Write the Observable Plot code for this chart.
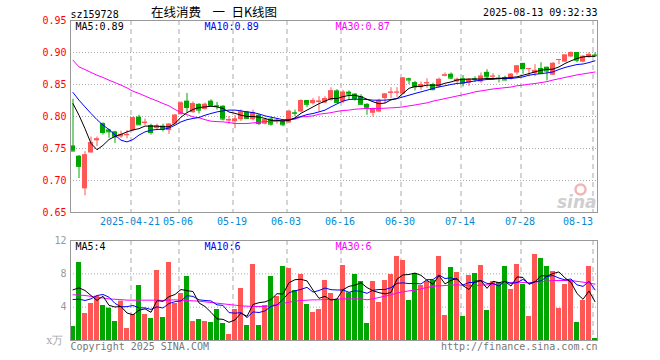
<!DOCTYPE html>
<html><head><meta charset="utf-8">
<script src="https://cdn.jsdelivr.net/npm/d3@7"></script>
<script src="https://cdn.jsdelivr.net/npm/@observablehq/plot@0.6"></script>
<style>
body{margin:0;background:#fff;}
#chart{position:relative;width:660px;height:360px;overflow:hidden;background:#fff;}
#chart svg{position:absolute;left:0;}
</style></head><body><div id="chart"></div>
<script>
// ---- data ----
const tickIdx = [10, 18, 27, 36, 45, 55, 65, 75, 87];
const tickLabels = ["2025-04-21","05-06","05-19","06-03","06-16","06-30","07-14","07-28","08-13"];
const priceTicks = [0.65, 0.70, 0.75, 0.80, 0.85, 0.90, 0.95];
const volTicks = [4, 8, 12];

const open = [0.754,0.738,0.687,0.743,0.762,0.789,0.779,0.776,0.768,0.770,
0.778,0.799,0.789,0.786,0.781,0.785,0.778,0.788,0.803,0.824,
0.806,0.819,0.811,0.824,0.817,0.816,0.793,0.792,0.795,0.807,
0.795,0.802,0.788,0.796,0.792,0.793,0.790,0.806,0.807,0.825,
0.820,0.822,0.821,0.825,0.840,0.823,0.838,0.835,0.831,0.819,
0.805,0.807,0.828,0.836,0.837,0.835,0.859,0.853,0.845,0.851,
0.850,0.846,0.863,0.866,0.854,0.859,0.852,0.859,0.854,0.869,
0.862,0.860,0.861,0.858,0.868,0.883,0.874,0.867,0.875,0.877,
0.8645,0.888,0.885,0.893,0.900,0.885,0.892,0.896];
const high = [0.827,0.739,0.745,0.768,0.768,0.790,0.780,0.777,0.777,0.778,
0.799,0.802,0.796,0.788,0.788,0.788,0.789,0.803,0.823,0.836,
0.823,0.820,0.821,0.826,0.822,0.817,0.800,0.802,0.810,0.808,
0.810,0.803,0.797,0.798,0.797,0.795,0.810,0.810,0.826,0.825,
0.828,0.831,0.831,0.845,0.842,0.841,0.840,0.836,0.834,0.820,
0.813,0.827,0.836,0.845,0.845,0.861,0.860,0.855,0.854,0.859,
0.852,0.860,0.868,0.868,0.860,0.864,0.859,0.862,0.868,0.873,
0.867,0.8645,0.863,0.867,0.879,0.883,0.875,0.881,0.884,0.877,
0.884,0.889,0.896,0.901,0.900,0.895,0.8995,0.899];
const low = [0.745,0.703,0.676,0.743,0.753,0.771,0.766,0.758,0.766,0.765,
0.776,0.786,0.786,0.771,0.778,0.776,0.772,0.787,0.802,0.805,
0.805,0.804,0.810,0.816,0.810,0.793,0.788,0.781,0.792,0.796,
0.793,0.786,0.787,0.785,0.788,0.784,0.789,0.800,0.806,0.814,
0.818,0.807,0.820,0.824,0.820,0.820,0.827,0.824,0.818,0.802,
0.799,0.806,0.820,0.828,0.830,0.834,0.850,0.840,0.841,0.844,
0.840,0.844,0.862,0.858,0.852,0.846,0.847,0.853,0.852,0.857,
0.857,0.8525,0.856,0.857,0.8645,0.866,0.862,0.862,0.866,0.8556,
0.864,0.881,0.885,0.892,0.884,0.884,0.891,0.893];
const close = [0.746,0.722,0.740,0.759,0.765,0.775,0.776,0.768,0.772,0.772,
0.798,0.787,0.791,0.775,0.785,0.780,0.788,0.802,0.821,0.814,
0.820,0.810,0.819,0.817,0.816,0.796,0.795,0.796,0.807,0.797,
0.806,0.789,0.795,0.788,0.794,0.787,0.808,0.805,0.825,0.819,
0.825,0.824,0.828,0.840,0.822,0.838,0.835,0.828,0.819,0.813,
0.812,0.825,0.835,0.838,0.838,0.860,0.857,0.846,0.850,0.853,
0.842,0.858,0.865,0.860,0.858,0.852,0.858,0.858,0.863,0.862,
0.863,0.859,0.857,0.866,0.879,0.875,0.875,0.872,0.867,0.871,
0.883,0.889,0.896,0.900,0.888,0.894,0.897,0.895];

const ma5 = [0.820,0.802,0.781,0.758,0.748,0.755,0.764,0.769,0.772,0.776,
0.779,0.781,0.785,0.785,0.785,0.784,0.784,0.789,0.799,0.806,
0.811,0.814,0.815,0.816,0.815,0.8125,0.807,0.805,0.802,0.800,
0.800,0.799,0.797,0.794,0.794,0.793,0.794,0.798,0.805,0.810,
0.815,0.820,0.824,0.828,0.828,0.831,0.833,0.833,0.831,0.827,
0.823,0.820,0.821,0.826,0.828,0.836,0.844,0.847,0.847,0.849,
0.849,0.849,0.852,0.854,0.857,0.858,0.8585,0.8585,0.8585,0.8594,
0.8594,0.8594,0.860,0.861,0.862,0.8645,0.867,0.8697,0.8723,0.8735,
0.874,0.8775,0.8828,0.887,0.8906,0.8931,0.894,0.894];
const ma10 = [0.8375,0.8255,0.815,0.8047,0.795,0.7864,0.7797,0.771,0.763,0.7603,
0.764,0.771,0.776,0.7786,0.7797,0.780,0.782,0.7864,0.7916,0.795,
0.7969,0.7984,0.802,0.8047,0.8072,0.8088,0.810,0.810,0.8088,0.8072,
0.8062,0.8040,0.801,0.799,0.797,0.795,0.795,0.797,0.800,0.803,
0.8047,0.8072,0.810,0.815,0.8197,0.824,0.8266,0.827,0.827,0.8266,
0.8255,0.8255,0.8255,0.8266,0.828,0.8306,0.8333,0.836,0.8385,0.841,
0.8437,0.8463,0.848,0.850,0.8516,0.8525,0.854,0.8556,0.8567,0.8578,
0.858,0.8594,0.8594,0.8594,0.8605,0.8619,0.8645,0.866,0.867,0.8681,
0.8697,0.8735,0.8766,0.879,0.8812,0.882,0.8843,0.887];
const ma30 = [0.888,0.8775,0.8734,0.8688,0.8645,0.861,0.8567,0.853,0.849,0.8447,
0.8395,0.836,0.832,0.828,0.8244,0.8203,0.8166,0.811,0.806,0.803,
0.7994,0.798,0.795,0.7927,0.792,0.7916,0.7906,0.789,0.789,0.789,
0.790,0.791,0.792,0.7925,0.7927,0.7937,0.7948,0.7958,0.7994,0.800,
0.801,0.8036,0.8047,0.806,0.808,0.8093,0.810,0.8114,0.812,0.8125,
0.8125,0.8125,0.813,0.8135,0.814,0.815,0.8166,0.818,0.8197,0.8213,
0.824,0.826,0.828,0.830,0.832,0.834,0.836,0.8385,0.840,0.8415,
0.843,0.844,0.845,0.846,0.848,0.849,0.8505,0.8515,0.853,0.8545,
0.857,0.859,0.861,0.863,0.865,0.8665,0.868,0.8695];

const vol = [1.68,9.36,3.24,4.44,5.32,4.2,3.88,2.28,4.72,1.44,
3.12,6.6,3.12,2.64,8.4,2.76,9.36,4.44,5.64,7.68,
2.28,2.52,2.28,2.16,3.72,2.04,0.72,3.72,6.24,1.8,
9.12,1.8,4.2,7.68,5.28,8.88,8.64,6.0,7.92,4.32,
3.36,3.72,7.2,5.64,4.92,9.0,5.72,7.92,7.08,2.04,
7.08,4.56,7.2,7.92,10.08,9.6,4.8,8.04,6.6,7.08,
7.2,10.08,3.0,8.76,8.16,2.88,7.8,8.04,9.0,3.6,
7.08,6.96,8.88,6.12,9.12,6.72,2.88,10.32,9.84,8.88,
8.28,3.84,6.72,7.2,2.16,4.8,8.88,0.24];
const vma5 = [6.08,6.32,6.0,5.4,4.81,5.31,4.22,4.02,4.08,3.30,
3.09,3.63,3.80,3.38,4.78,4.70,5.26,5.52,6.12,5.98,
5.88,4.51,4.08,3.38,2.59,2.54,2.18,2.47,3.29,2.90,
4.32,4.54,4.63,4.92,5.62,5.57,6.94,7.30,7.34,7.15,
6.05,5.06,5.30,4.85,4.97,6.10,6.50,6.64,6.93,6.35,
5.97,5.74,5.59,5.76,7.37,7.87,7.92,8.09,7.82,7.22,
6.74,7.80,6.79,7.22,7.44,6.58,6.12,7.13,7.18,6.26,
7.10,6.94,7.10,6.53,7.63,7.56,6.74,7.03,7.78,7.73,
8.04,8.23,7.51,6.98,5.64,4.94,5.95,4.66];
const vma10 = [4.92,4.96,4.8,5.0,5.4,5.52,5.2,4.45,4.05,4.06,
4.20,3.92,3.91,3.73,4.04,3.90,4.44,4.66,4.75,5.38,
5.29,4.88,4.80,4.75,4.28,4.21,3.35,3.28,3.34,2.75,
3.43,3.36,3.55,4.10,4.26,4.94,5.74,5.96,6.13,6.38,
5.81,6.00,6.30,6.10,6.06,6.07,5.78,5.97,5.89,5.66,
6.03,6.12,6.12,6.34,6.86,6.92,6.83,6.84,6.79,7.30,
7.31,7.86,7.44,7.52,7.33,6.66,6.96,6.96,7.20,6.85,
6.84,6.53,7.12,6.85,6.95,7.33,6.84,7.07,7.15,7.68,
7.80,7.49,7.27,7.38,6.68,6.49,7.09,6.08];
const vma30 = [5.48,5.46,5.4,5.3,5.2,5.1,5.0,4.95,4.9,4.85,
4.84,4.84,4.84,4.84,4.84,4.8,4.84,4.88,4.84,4.8,
4.76,4.72,4.64,4.56,4.48,4.4,4.32,4.24,4.16,4.12,
4.08,4.08,4.08,4.2,4.32,4.44,4.6,4.72,4.8,4.84,
4.88,4.88,4.92,4.92,4.96,5.0,5.0,5.0,5.0,4.88,
5.0,5.16,5.32,5.48,5.7,5.84,5.96,6.04,6.2,6.36,
6.5,6.56,6.6,6.64,6.68,6.64,6.58,6.6,6.64,6.68,
6.72,6.8,6.88,6.94,7.0,6.96,6.92,7.0,7.06,7.12,
7.2,7.2,7.2,7.2,7.1,7.0,6.9,6.76];

// ---- build tables ----
const RED = "#ff5656", GREEN = "#00a600";
const bars = close.map((c, i) => ({i, o: open[i], h: high[i], l: low[i], c, v: vol[i], up: c >= open[i]}));
const ticks = tickIdx.map((i, k) => ({i, label: tickLabels[k]}));
const series = (arr) => arr.map((v, i) => ({i, v}));
const col = d => d.up ? RED : GREEN;
const xDomain = [-5 / 12, 87 + 5 / 12];
const half = 0.42;
const MONO = "DejaVu Sans Mono";
const CJK = "Noto Sans CJK SC";
const GRID = "#aaaaaa";

const label = (s, o) => Plot.text([s], {text: d => d, textAnchor: "start", lineAnchor: "middle", ...o});

const price = Plot.plot({
  width: 660, height: 230,
  marginLeft: 70, marginRight: 63, marginTop: 20, marginBottom: 18,
  style: {fontFamily: MONO, fontSize: "10px", background: "transparent", overflow: "visible"},
  x: {domain: xDomain, axis: null},
  y: {domain: [0.65, 0.95], axis: null},
  marks: [
    Plot.ruleY(priceTicks.slice(1, -1), {stroke: GRID, strokeDasharray: "1,2"}),
    Plot.ruleX(ticks, {x: "i", dx: -2, stroke: GRID, strokeDasharray: "5,4"}),
    // sina watermark (logo ring + word)
    Plot.dot([0], {frameAnchor: "bottom-right", dx: -17, dy: -23, r: 5, stroke: "#f6b4b4", strokeWidth: 2.5, fill: "none"}),
    Plot.text(["sina"], {text: d => d, frameAnchor: "bottom-right", dx: -1, dy: -5, textAnchor: "end", lineAnchor: "bottom",
      fontFamily: "DejaVu Sans", fontSize: 17, fontWeight: "bold", fontStyle: "italic", fill: "#cfcfcf"}),
    Plot.ruleX(bars, {x: "i", y1: "l", y2: "h", stroke: col, strokeWidth: 1}),
    Plot.rect(bars, {x1: d => d.i - half, x2: d => d.i + half, y1: "o", y2: "c", fill: col}),
    Plot.ruleY(bars, {y: "c", x1: d => d.i - half, x2: d => d.i + half, stroke: col}),
    Plot.line(series(ma30), {x: "i", y: "v", stroke: "#ff00ff", strokeWidth: 1}),
    Plot.line(series(ma10), {x: "i", y: "v", stroke: "#0000ff", strokeWidth: 1}),
    Plot.line(series(ma5), {x: "i", y: "v", stroke: "#000000", strokeWidth: 1}),
    Plot.frame({stroke: "#999"}),
    Plot.text(priceTicks, {y: d => d, text: d => d.toFixed(2), frameAnchor: "left", dx: -4, textAnchor: "end",
      lineAnchor: "middle", fill: "#ff0000"}),
    Plot.text(ticks.slice(0, -1), {x: "i", text: "label", frameAnchor: "bottom", dx: -3, dy: 9, lineAnchor: "middle", fill: "#0a88d2"}),
    Plot.text(ticks.slice(-1), {x: "i", text: "label", frameAnchor: "bottom", dx: -2, dy: 9, textAnchor: "end", lineAnchor: "middle", fill: "#0a88d2"}),
    label("sz159728", {frameAnchor: "top-left", dy: -6, fill: "#000"}),
    label("在线消费", {frameAnchor: "top-left", dx: 80.5, dy: -8, fontFamily: CJK, fontSize: 12.5, fill: "#000"}),
    label("一", {frameAnchor: "top-left", dx: 142, dy: -8, fontFamily: CJK, fontSize: 12.5, fill: "#000"}),
    label("日K线图", {frameAnchor: "top-left", dx: 161, dy: -8, fontFamily: CJK, fontSize: 12.5, fill: "#000"}),
    Plot.text(["2025-08-13 09:32:33"], {text: d => d, frameAnchor: "top-right", dy: -7.5, textAnchor: "end", lineAnchor: "middle", fill: "#000"}),
    label("MA5:0.89", {frameAnchor: "top-left", dx: 5, dy: 6, fill: "#000"}),
    label("MA10:0.89", {frameAnchor: "top-left", dx: 134, dy: 6, fill: "#0000ff"}),
    label("MA30:0.87", {frameAnchor: "top-left", dx: 265, dy: 6, fill: "#ff00ff"})
  ]
});

const volume = Plot.plot({
  width: 660, height: 130,
  marginLeft: 70, marginRight: 63, marginTop: 10, marginBottom: 20,
  style: {fontFamily: MONO, fontSize: "10px", background: "transparent", overflow: "visible"},
  x: {domain: xDomain, axis: null},
  y: {domain: [0, 12], axis: null},
  marks: [
    Plot.ruleY(volTicks.slice(0, -1), {stroke: GRID, strokeDasharray: "1,2"}),
    Plot.ruleX(ticks, {x: "i", dx: -2, stroke: GRID, strokeDasharray: "5,4"}),
    Plot.rect(bars, {x1: d => d.i - half, x2: d => d.i + half, y1: 0, y2: "v", fill: col}),
    Plot.line(series(vma30), {x: "i", y: "v", stroke: "#ff00ff", strokeWidth: 1}),
    Plot.line(series(vma10), {x: "i", y: "v", stroke: "#0000ff", strokeWidth: 1}),
    Plot.line(series(vma5), {x: "i", y: "v", stroke: "#000000", strokeWidth: 1}),
    Plot.frame({stroke: "#999"}),
    Plot.text(volTicks, {y: d => d, text: d => String(d), frameAnchor: "left", dx: -4, textAnchor: "end", lineAnchor: "middle", fill: "#999"}),
    Plot.text(["x万"], {text: d => d, frameAnchor: "bottom-left", dx: -7, dy: 0, textAnchor: "end", lineAnchor: "middle",
      fontFamily: "DejaVu Serif", fontSize: 11, fill: "#aaa"}),
    label("MA5:4", {frameAnchor: "top-left", dx: 5, dy: 6.5, fill: "#000"}),
    label("MA10:6", {frameAnchor: "top-left", dx: 134, dy: 6.5, fill: "#0000ff"}),
    label("MA30:6", {frameAnchor: "top-left", dx: 265, dy: 6.5, fill: "#ff00ff"}),
    label("Copyright 2025 SINA.COM", {frameAnchor: "bottom-left", dy: 6, fill: "#777"}),
    Plot.text(["http://finance.sina.com.cn"], {text: d => d, frameAnchor: "bottom-right", dy: 6, textAnchor: "end", lineAnchor: "middle", fill: "#777"})
  ]
});

const root = document.getElementById("chart");
price.style.top = "0px";
volume.style.top = "230px";
root.appendChild(price);
root.appendChild(volume);
</script>
</body></html>
